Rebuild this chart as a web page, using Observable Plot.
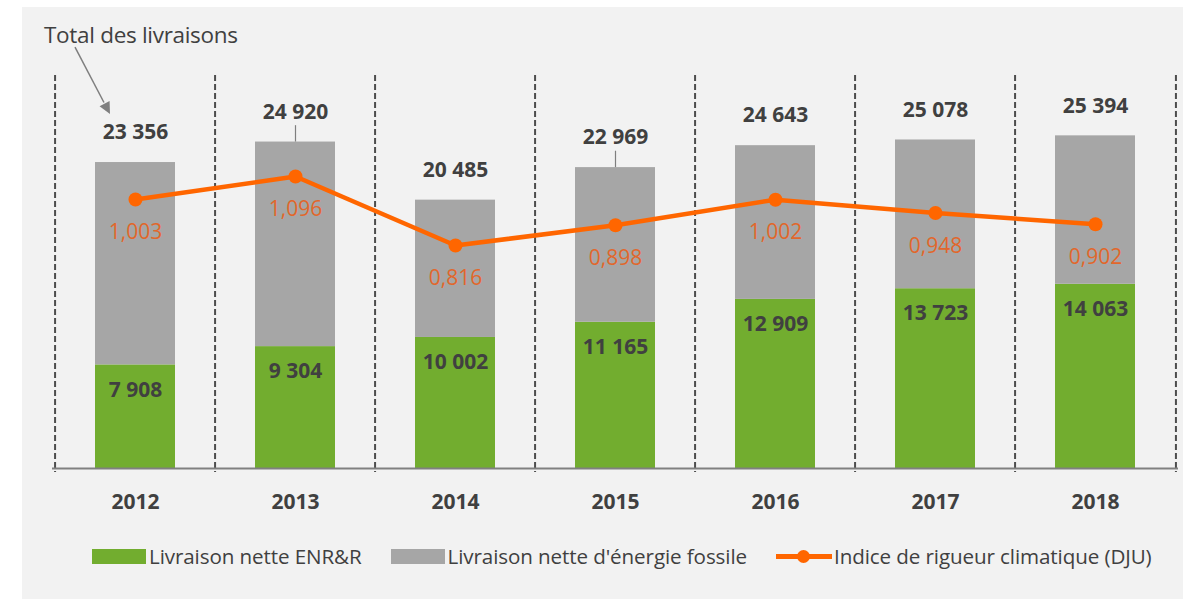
<!DOCTYPE html>
<html>
<head>
<meta charset="utf-8">
<script src="https://cdn.jsdelivr.net/npm/d3@7"></script>
<script src="https://cdn.jsdelivr.net/npm/@observablehq/plot@0.6"></script>
<style>
  html, body { margin: 0; padding: 0; background: #ffffff; }
  #page { position: relative; width: 1183px; height: 599px; overflow: hidden; font-family: "Open Sans", sans-serif; }
  #bg { position: absolute; left: 22px; top: 7px; right: 0; bottom: 0; background: #f2f2f2; }
  #chart { position: absolute; left: 0; top: 0; }
  #legend { position: absolute; left: 92px; top: 542px; width: 1100px; display: flex; align-items: center; font-size: 20.6px; color: #404040; letter-spacing: -0.1px; white-space: nowrap; }
  .item { display: flex; align-items: center; margin-right: 29px; flex-shrink: 0; }
  .sw { width: 54px; height: 15px; margin-right: 3px; flex-shrink: 0; }
  .ln { position: relative; width: 56px; height: 15px; margin-right: 2px; flex-shrink: 0; }
  .ln::before { content: ""; position: absolute; left: 0; right: 0; top: 5px; height: 5px; background: #ff6600; }
  .ln::after { content: ""; position: absolute; left: 21px; top: 1px; width: 13px; height: 13px; border-radius: 50%; background: #ff6600; }
</style>
</head>
<body>
<div id="page">
  <div id="bg"></div>
  <div id="chart"></div>
  <div id="legend"></div>
</div>
<script>
// ---- data ----
const years = ["2012", "2013", "2014", "2015", "2016", "2017", "2018"];
const enr = [7908, 9304, 10002, 11165, 12909, 13723, 14063];
const totals = [23356, 24920, 20485, 22969, 24643, 25078, 25394];
const dju = [1.003, 1.096, 0.816, 0.898, 1.002, 0.948, 0.902];
const leaderYears = ["2013", "2015"];
const seriesNames = ["Livraison nette ENR&R", "Livraison nette d'énergie fossile", "Indice de rigueur climatique (DJU)"];
const annotationText = "Total des livraisons";

const fmt = v => d3.format(",")(v).replace(/,/g, "\u00a0");
const fmtDju = v => d3.format(".3f")(v).replace(".", ",");

const data = years.map((y, i) => ({year: y, enr: enr[i], total: totals[i], dju: dju[i]}));

// secondary (DJU) axis mapped onto primary y units
const yMax = 30000;
const djuDomain = [-0.089, 1.506];
const djuToY = v => (v - djuDomain[0]) / (djuDomain[1] - djuDomain[0]) * yMax;

const W = 1183, H = 530;
const mL = 52, mR = 5, mT = 75, mB = H - 468;
const step = (W - mL - mR) / years.length;

const green = "#72ad2f", grey = "#a6a6a6", orange = "#ff6600", txt = "#404040";

const arrowMark = (index, scales, values, dims) => {
  const x0 = scales.x(years[0]) + scales.x.bandwidth() / 2;
  const yT = scales.y(totals[0]);
  const g = d3.create("svg:g");
  const xs = x0 - 60, ys = yT - 115, xe = x0 - 25, ye = yT - 48;
  const ang = Math.atan2(ye - ys, xe - xs);
  const L = 13, wA = 0.45;
  const bx = xe - L * Math.cos(ang), by = ye - L * Math.sin(ang);
  g.append("line").attr("x1", xs).attr("y1", ys).attr("x2", bx).attr("y2", by)
    .attr("stroke", "#7f7f7f").attr("stroke-width", 1.5);
  g.append("path")
    .attr("d", `M${xe},${ye}L${xe - L * Math.cos(ang - wA)},${ye - L * Math.sin(ang - wA)}L${xe - L * Math.cos(ang + wA)},${ye - L * Math.sin(ang + wA)}Z`)
    .attr("fill", "#7f7f7f");
  g.append("text").attr("x", mL - 8).attr("y", 43).attr("font-size", 22.5).attr("fill", txt)
    .attr("text-anchor", "start").attr("letter-spacing", "-0.3px")
    .attr("font-family", "Open Sans").text(annotationText);
  return g.node();
};

const chart = Plot.plot({
  width: W, height: H,
  marginLeft: mL, marginRight: mR, marginTop: mT, marginBottom: mB,
  style: {background: "transparent", fontFamily: "Open Sans", overflow: "visible"},
  x: {type: "band", domain: years, paddingInner: 0.5, paddingOuter: 0.25, label: null},
  y: {domain: [0, yMax], axis: null},
  marks: [
    Plot.ruleX(years, {x: d => d, dx: -step / 2, stroke: "#4d4d4d", strokeWidth: 2, strokeDasharray: "6,3", insetBottom: -4}),
    Plot.ruleX(years.slice(-1), {x: d => d, dx: step / 2, stroke: "#4d4d4d", strokeWidth: 2, strokeDasharray: "6,3", insetBottom: -4}),
    Plot.barY(data, {x: "year", y1: 0, y2: "enr", fill: green}),
    Plot.barY(data, {x: "year", y1: "enr", y2: "total", fill: grey}),
    Plot.ruleX(data.filter(d => leaderYears.includes(d.year)), {x: "year", y1: "total", y2: d => d.total + 1250, stroke: "#7f7f7f", strokeWidth: 1.2}),
    Plot.ruleY([0], {stroke: "#808080", strokeWidth: 2}),
    Plot.line(data, {x: "year", y: d => djuToY(d.dju), stroke: orange, strokeWidth: 4.5}),
    Plot.dot(data, {x: "year", y: d => djuToY(d.dju), r: 7, fill: orange}),
    Plot.text(data, {x: "year", y: "total", text: d => fmt(d.total), dy: -30, fontSize: 21, fontWeight: "bold", fill: txt}),
    Plot.text(data, {x: "year", y: "enr", text: d => fmt(d.enr), dy: 25, fontSize: 21, fontWeight: "bold", fill: txt}),
    Plot.text(data, {x: "year", y: d => djuToY(d.dju), text: d => fmtDju(d.dju), dy: 33, fontSize: 21, fill: "#e2672b"}),
    Plot.axisX({tickSize: 0, tickPadding: 26, fontSize: 21, fontWeight: "bold", fill: txt, label: null}),
    arrowMark
  ]
});
document.getElementById("chart").appendChild(chart);

const legend = document.getElementById("legend");
[[green, "sw"], [grey, "sw"], [orange, "ln"]].forEach(([c, cls], i) => {
  const it = document.createElement("div");
  it.className = "item";
  const sw = document.createElement("div");
  sw.className = cls;
  if (cls === "sw") sw.style.background = c;
  const t = document.createElement("span");
  t.textContent = seriesNames[i];
  it.appendChild(sw); it.appendChild(t);
  legend.appendChild(it);
});
</script>
</body>
</html>
